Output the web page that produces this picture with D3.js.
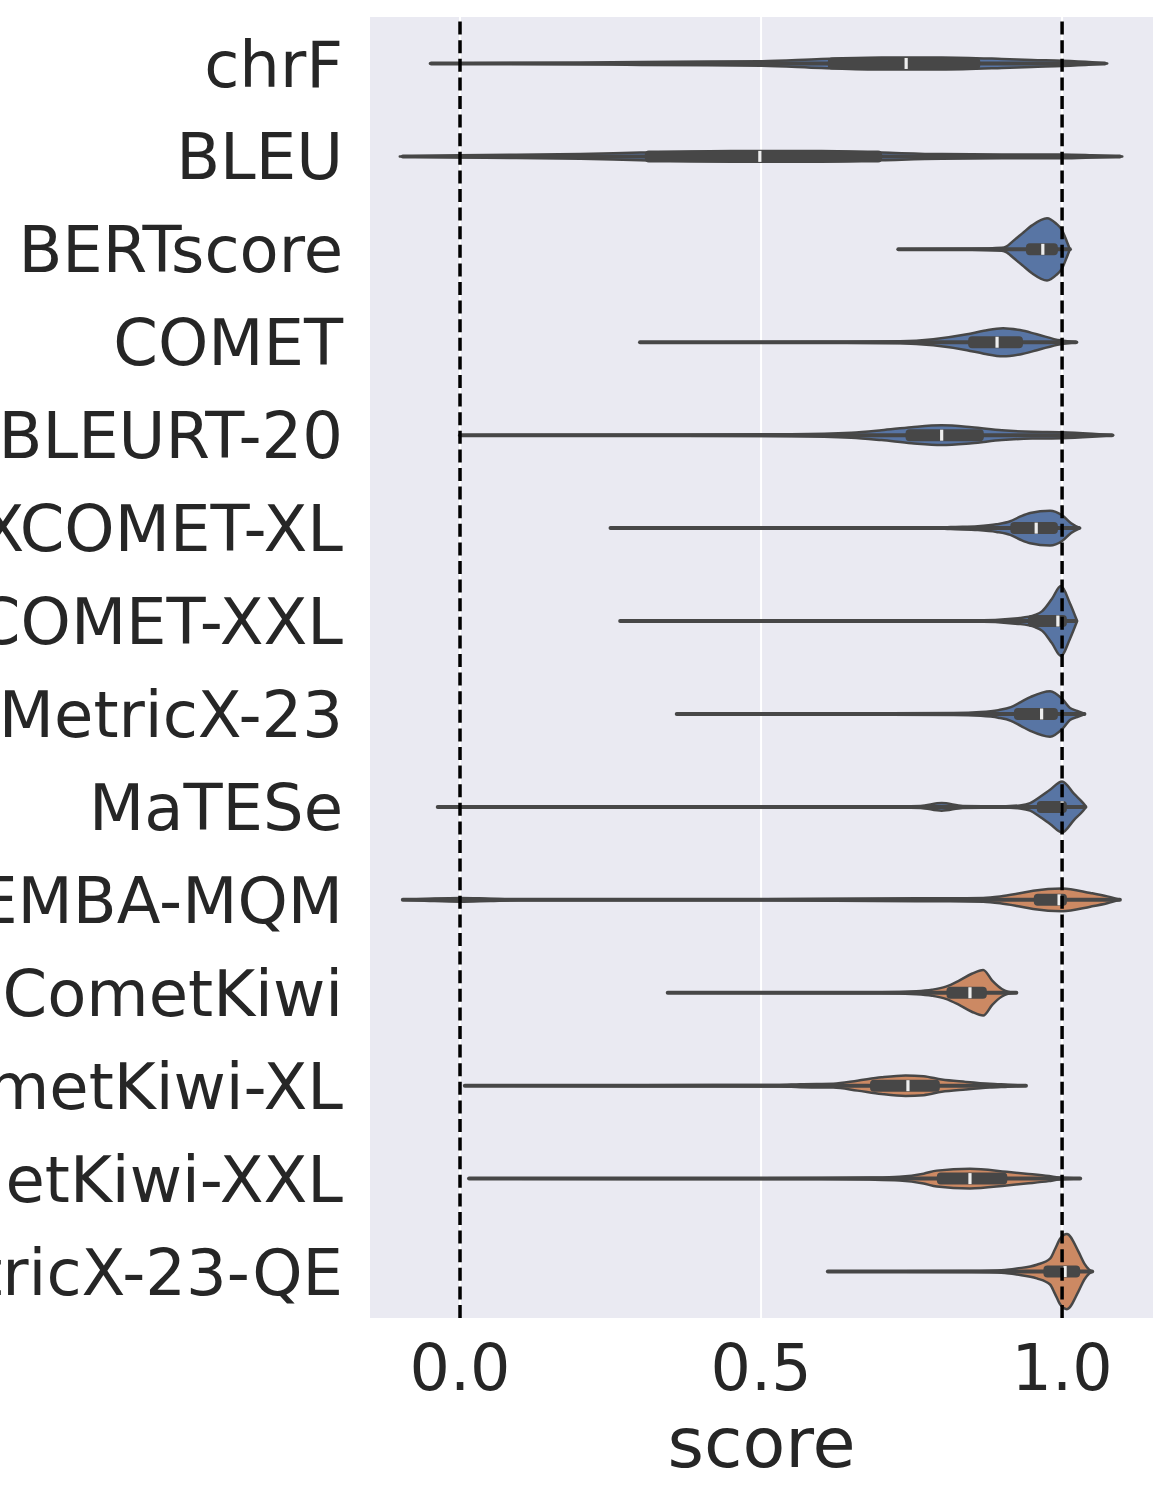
<!DOCTYPE html>
<html>
<head>
<meta charset="utf-8">
<script src="https://cdn.jsdelivr.net/npm/d3@7"></script>
<style>
	body { margin: 0; background: #ffffff; }
	text { font-family: "DejaVu Sans", sans-serif; fill: #262626; }
</style>
</head>
<body>
<div id="chart"></div>
<script>

// metric names, top to bottom
let metrics = ['chrF', 'BLEU', 'BERTscore', 'COMET', 'BLEURT-20', 'XCOMET-XL', 'XCOMET-XXL',
	'MetricX-23', 'MaTESe', 'GEMBA-MQM', 'CometKiwi', 'CometKiwi-XL', 'CometKiwi-XXL', 'MetricX-23-QE'];

// reference based (0) or quality estimation (1)
let metricGroup = [0, 0, 0, 0, 0, 0, 0, 0, 0, 1, 1, 1, 1, 1];

// inner box stats
let whiskLo = [-0.048, -0.095, 0.728, 0.299, 0.0, 0.25, 0.266, 0.36, -0.037, -0.095, 0.345, 0.008, 0.015, 0.611];
let whiskHi = [1.071, 1.096, 1.013, 1.023, 1.083, 1.028, 1.023, 1.037, 1.038, 1.096, 0.924, 0.94, 1.03, 1.05];
let boxQ1 = [0.611, 0.307, 0.94, 0.844, 0.74, 0.914, 0.943, 0.92, 0.958, 0.953, 0.808, 0.681, 0.792, 0.969];
let boxQ3 = [0.864, 0.701, 0.993, 0.935, 0.87, 0.993, 1.008, 0.993, 1.008, 1.008, 0.875, 0.797, 0.909, 1.03];
let boxMed = [0.741, 0.498, 0.968, 0.892, 0.80, 0.957, 0.993, 0.966, 1.0, 0.995, 0.847, 0.744, 0.847, 1.005];

// violin outlines: [score, relative density]
let densChrF = [[-0.05,0],[0.2,0.02],[0.3,0.04],[0.5,0.06],[0.6,0.12],[0.7,0.16],[0.8,0.16],[0.9,0.12],[0.95,0.09],[1.0,0.07],[1.05,0.03],[1.075,0]];
let densBleu = [[-0.1,0],[0.0,0.03],[0.2,0.06],[0.3,0.1],[0.45,0.14],[0.6,0.14],[0.7,0.1],[0.8,0.06],[0.9,0.05],[1.0,0.05],[1.05,0.03],[1.1,0]];
let densBert = [[0.73,0],[0.85,0.013],[0.9,0.04],[0.908,0.08],[0.918,0.21],[0.934,0.42],[0.95,0.63],[0.975,0.82],[0.99,0.68],[1.0,0.5],[1.008,0.2],[1.013,0]];
let densComet = [[0.3,0],[0.6,0.01],[0.731,0.026],[0.786,0.08],[0.842,0.21],[0.87,0.3],[0.902,0.37],[0.93,0.32],[0.958,0.21],[0.997,0.05],[1.025,0]];
let densBleurt = [[0.0,0],[0.3,0.01],[0.55,0.026],[0.65,0.066],[0.7,0.13],[0.75,0.21],[0.8,0.26],[0.85,0.21],[0.9,0.13],[0.95,0.09],[1.0,0.08],[1.05,0.04],[1.085,0]];
let densXcometXl = [[0.25,0],[0.8,0.013],[0.815,0.026],[0.86,0.05],[0.891,0.1],[0.914,0.18],[0.93,0.3],[0.947,0.4],[0.98,0.46],[1.0,0.34],[1.015,0.13],[1.03,0]];
let densXcometXxl = [[0.266,0],[0.85,0.013],[0.93,0.08],[0.955,0.16],[0.967,0.26],[0.983,0.58],[0.998,0.92],[1.013,0.47],[1.025,0]];
let densMetricX = [[0.36,0],[0.82,0.026],[0.865,0.05],[0.894,0.1],[0.915,0.18],[0.932,0.32],[0.948,0.45],[0.98,0.6],[1.0,0.4],[1.013,0.16],[1.025,0.08],[1.038,0]];
let densMatese = [[-0.037,0],[0.2,0.01],[0.7,0.01],[0.765,0.026],[0.8,0.1],[0.835,0.026],[0.9,0.013],[0.93,0.04],[0.947,0.1],[0.963,0.26],[0.98,0.45],[1.0,0.67],[1.02,0.34],[1.035,0.1],[1.04,0]];
let densGemba = [[-0.095,0],[-0.05,0.03],[0.0,0.05],[0.05,0.03],[0.1,0.013],[0.5,0.013],[0.759,0.04],[0.814,0.04],[0.869,0.05],[0.897,0.09],[0.925,0.16],[0.952,0.24],[1.0,0.3],[1.047,0.18],[1.075,0.09],[1.096,0]];
let densKiwi = [[0.345,0],[0.7,0.013],[0.758,0.04],[0.784,0.08],[0.807,0.16],[0.829,0.32],[0.85,0.5],[0.869,0.6],[0.884,0.32],[0.9,0.1],[0.91,0.03],[0.924,0]];
let densKiwiXl = [[0.008,0],[0.3,0.013],[0.53,0.02],[0.565,0.04],[0.62,0.05],[0.66,0.13],[0.7,0.22],[0.74,0.27],[0.77,0.25],[0.8,0.16],[0.84,0.1],[0.88,0.05],[0.91,0.026],[0.94,0]];
let densKiwiXxl = [[0.015,0],[0.3,0.01],[0.6,0.013],[0.68,0.026],[0.73,0.05],[0.77,0.13],[0.792,0.21],[0.847,0.26],[0.908,0.18],[0.94,0.13],[0.978,0.066],[0.995,0.026],[1.03,0]];
let densMetricXQe = [[0.611,0],[0.85,0.013],[0.905,0.04],[0.925,0.08],[0.958,0.18],[0.98,0.34],[0.988,0.58],[0.997,0.87],[1.008,0.99],[1.027,0.53],[1.037,0.21],[1.045,0.05],[1.05,0]];

let densities = [densChrF, densBleu, densBert, densComet, densBleurt, densXcometXl, densXcometXxl,
	densMetricX, densMatese, densGemba, densKiwi, densKiwiXl, densKiwiXxl, densMetricXQe];

let xTicks = [0.0, 0.5, 1.0];
let refLines = [0.0, 1.0];
let xDomain = [-0.1495, 1.151];

let groupColors = ['#5875a4', '#cc8963'];

let width = 1172;
let height = 1501;
let plotLeft = 370, plotRight = 1153, plotTop = 17, plotBottom = 1318;

let svg = d3.select('#chart').append('svg')
	.attr('width', width)
	.attr('height', height);

let x = d3.scaleLinear()
	.domain(xDomain)
	.range([plotLeft, plotRight]);

let y = d3.scaleBand()
	.domain(metrics)
	.range([plotTop, plotBottom]);

let halfWidth = d3.scaleLinear()
	.domain([0, 1])
	.range([0, 38]);

// background
svg.append('rect')
	.attr('x', plotLeft)
	.attr('y', plotTop)
	.attr('width', plotRight - plotLeft)
	.attr('height', plotBottom - plotTop)
	.attr('fill', '#eaeaf2');

// grid
svg.append('g')
	.selectAll('line')
	.data(xTicks)
	.enter()
	.append('line')
	.attr('x1', d => x(d))
	.attr('x2', d => x(d))
	.attr('y1', plotTop)
	.attr('y2', plotBottom)
	.attr('stroke', '#ffffff')
	.attr('stroke-width', 2);

let violins = svg.append('g')
	.selectAll('g')
	.data(metrics)
	.enter()
	.append('g');

violins.each(function(m, i) {
	let g = d3.select(this);
	let cy = y(m) + y.bandwidth() / 2;

	let area = d3.area()
		.x(d => x(d[0]))
		.y0(d => cy - halfWidth(d[1]))
		.y1(d => cy + halfWidth(d[1]))
		.curve(d3.curveMonotoneX);

	g.append('path')
		.attr('d', area(densities[i]))
		.attr('fill', groupColors[metricGroup[i]])
		.attr('stroke', '#474747')
		.attr('stroke-width', 2.5)
		.attr('stroke-linejoin', 'round');

	// whiskers
	g.append('line')
		.attr('x1', x(whiskLo[i]))
		.attr('x2', x(whiskHi[i]))
		.attr('y1', cy)
		.attr('y2', cy)
		.attr('stroke', '#474747')
		.attr('stroke-width', 4)
		.attr('stroke-linecap', 'round');

	// box
	g.append('rect')
		.attr('x', x(boxQ1[i]))
		.attr('y', cy - 6)
		.attr('width', x(boxQ3[i]) - x(boxQ1[i]))
		.attr('height', 12)
		.attr('rx', 4)
		.attr('fill', '#474747');

	// median
	g.append('rect')
		.attr('x', x(boxMed[i]) - 1.6)
		.attr('y', cy - 5.5)
		.attr('width', 3.2)
		.attr('height', 11)
		.attr('fill', '#eeeeee');
});

// dashed reference lines
svg.append('g')
	.selectAll('line')
	.data(refLines)
	.enter()
	.append('line')
	.attr('x1', d => x(d))
	.attr('x2', d => x(d))
	.attr('y1', plotBottom)
	.attr('y2', plotTop)
	.attr('stroke', '#000000')
	.attr('stroke-width', 3.5)
	.attr('stroke-dasharray', '13,5.6');

// y labels
svg.append('g')
	.selectAll('text')
	.data(metrics)
	.enter()
	.append('text')
	.attr('x', plotLeft - 27)
	.attr('y', d => y(d) + y.bandwidth() / 2)
	.attr('dy', '0.36em')
	.attr('text-anchor', 'end')
	.style('font-size', '64px')
	.text(d => d);

// x tick labels
svg.append('g')
	.selectAll('text')
	.data(xTicks)
	.enter()
	.append('text')
	.attr('x', d => x(d))
	.attr('y', 1390)
	.attr('text-anchor', 'middle')
	.style('font-size', '63.5px')
	.text(d => d3.format('.1f')(d));

svg.append('text')
	.attr('x', (plotLeft + plotRight) / 2)
	.attr('y', 1467)
	.attr('text-anchor', 'middle')
	.style('font-size', '70px')
	.text('score');

</script>
</body>
</html>
